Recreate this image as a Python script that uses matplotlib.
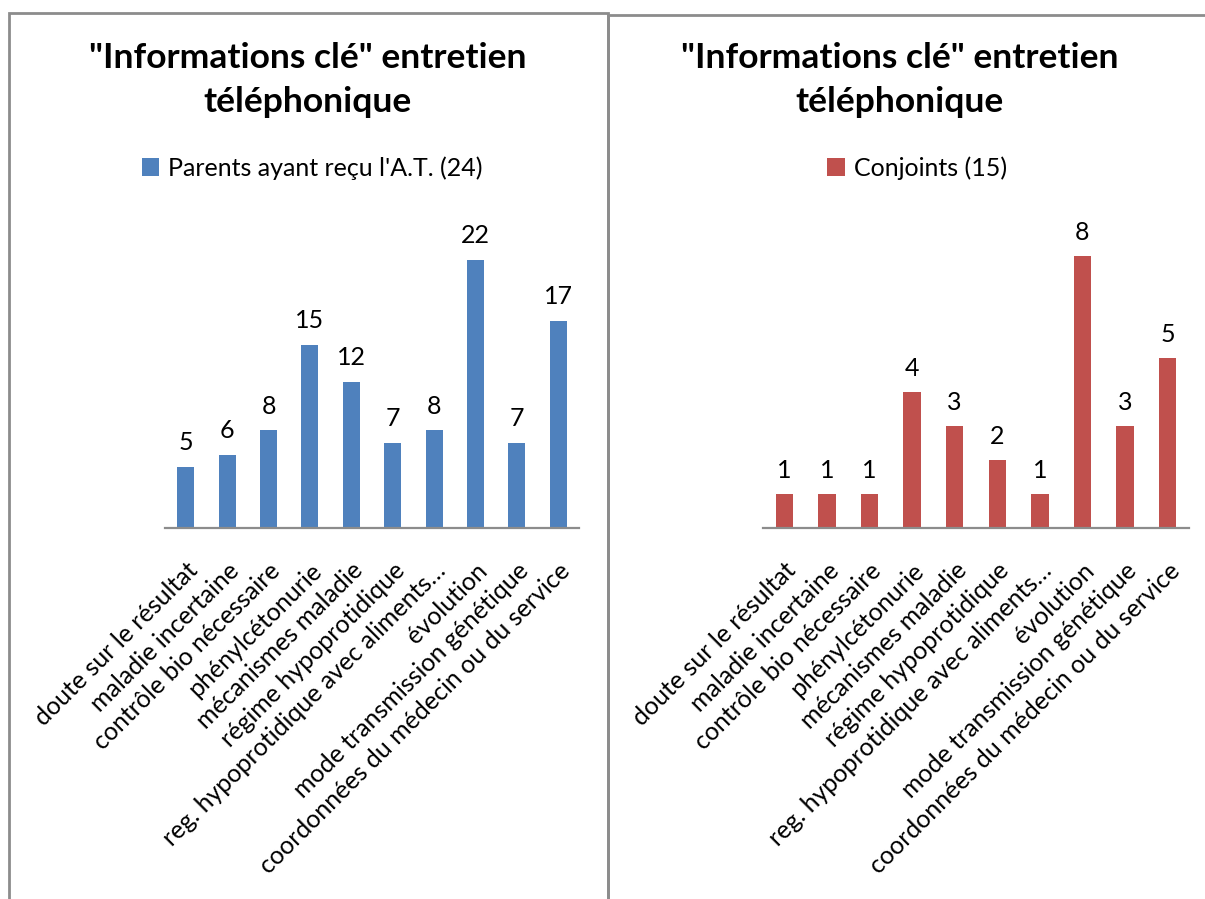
import matplotlib
matplotlib.use("Agg")
import matplotlib.pyplot as plt
from matplotlib.patches import Rectangle

categories = ["doute sur le résultat", "maladie incertaine", "contrôle bio nécessaire",
              "phénylcétonurie", "mécanismes maladie", "régime hypoprotidique",
              "reg. hypoprotidique avec aliments…", "évolution",
              "mode transmission génétique", "coordonnées du médecin ou du service"]
parents = [5, 6, 8, 15, 12, 7, 8, 22, 7, 17]
conjoints = [1, 1, 1, 4, 3, 2, 1, 8, 3, 5]
title = "\"Informations clé\" entretien\ntéléphonique"
label_parents = "Parents ayant reçu l'A.T. (24)"
label_conjoints = "Conjoints (15)"

W, H = 1205, 899
plt.rcParams['font.family'] = ['Lato', 'DejaVu Sans']
fig = plt.figure(figsize=(W/100, H/100), dpi=100)

def px(x0, y0, x1, y1):
    return [x0/W, 1 - y1/H, (x1-x0)/W, (y1-y0)/H]

# panel borders
for (x0, y0, x1, y1) in [(9, 13, 608, 905), (608, 15, 1210, 905)]:
    fig.patches.append(Rectangle((x0/W, 1-y1/H), (x1-x0)/W, (y1-y0)/H,
                                 transform=fig.transFigure, fill=False,
                                 edgecolor='#8c8c8c', linewidth=2))

FS = 18

def panel(rect, vals, color, ymax, label, tcx, lcx):
    ax = fig.add_axes(px(*rect))
    x = list(range(len(vals)))
    bars = ax.bar(x, vals, width=0.41, color=color, label=label)
    ax.set_xlim(-0.5, len(vals)-0.5)
    ax.set_ylim(0, ymax)
    for s in ['top', 'left', 'right']:
        ax.spines[s].set_visible(False)
    ax.spines['bottom'].set_color('#8c8c8c')
    ax.spines['bottom'].set_linewidth(1.6)
    ax.set_yticks([])
    ax.set_xticks(x)
    ax.set_xticklabels(categories, rotation=45, ha='right', rotation_mode='anchor',
                       fontsize=FS, color='black')
    ax.tick_params(axis='x', length=0, pad=22)
    for xi, v in zip(x, vals):
        ax.annotate(str(v), (xi, v), xytext=(0, 9), textcoords='offset points',
                    ha='center', va='bottom', fontsize=FS)
    fig.text(tcx/W, 1-80/H, title, ha='center', va='center', fontsize=25.5,
             fontweight='bold', linespacing=1.45)
    fig.legend(handles=[bars], labels=[label], loc='center',
               bbox_to_anchor=(lcx/W, 1-168/H), frameon=False, fontsize=FS,
               handlelength=0.7, handleheight=0.7, handletextpad=0.35)
    return ax

panel((165, 223, 579, 528), parents, '#4F81BD', 25, label_parents, 308, 312)
panel((763, 222, 1189, 528), conjoints, '#C0504D', 9, label_conjoints, 900, 917)

fig.savefig("out.png", dpi=100)
